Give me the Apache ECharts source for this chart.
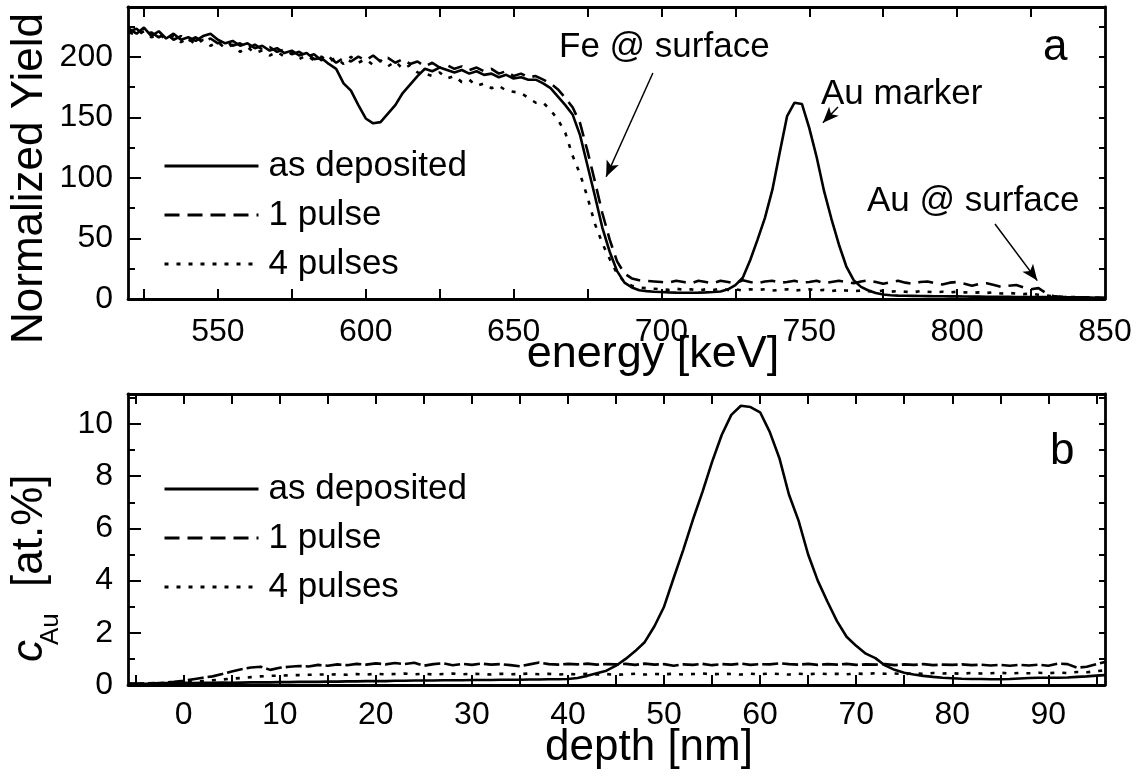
<!DOCTYPE html>
<html><head><meta charset="utf-8">
<script src="https://cdn.jsdelivr.net/npm/echarts@6/dist/echarts.min.js"></script>
<style>html,body{margin:0;padding:0;background:#fff}#c{width:1137px;height:776px}</style>
</head><body><div id="c"></div>
<script>
// ---------- Panel a: energy spectrum ----------
const energy = [520,522.5,525,527.5,530,532.5,535,537.5,540,542.5,545,547.5,550,552.5,555,557.5,560,562.5,565,567.5,570,572.5,575,577.5,580,582.5,585,587.5,590,592.5,595,597.5,600,602.5,605,607.5,610,612.5,615,617.5,620,622.5,625,627.5,630,632.5,635,637.5,640,642.5,645,647.5,650,652.5,655,657.5,660,662.5,665,667.5,670,672.5,675,677.5,680,682.5,685,687.5,690,692.5,695,697.5,700,702.5,705,707.5,710,712.5,715,717.5,720,722.5,725,727.5,730,732.5,735,737.5,740,742.5,745,747.5,750,752.5,755,757.5,760,762.5,765,767.5,770,772.5,775,777.5,780,782.5,785,787.5,790,792.5,795,797.5,800,802.5,805,807.5,810,812.5,815,817.5,820,822.5,825,827.5,830,832.5,835,837.5,840,842.5,845,847.5,850];
const asDepositedA = [223,219,224,217,221,215,219,214,216,213,217,219,214,211,213,209,211,207,209,205,207,203,205,201,203,198,199,194,190,178,172,160,149,145,146,153,160,170,177,184,190,188,191,189,187,189,186,188,185,186,183,185,182,183,181,181,178,174,167,160,152,135,110,85,59,39,23,13.5,9.5,7.2,6.5,6,5.8,5.5,5.3,5.2,5.2,5.3,5.5,5.8,6.2,8,11.5,17.5,32,49,67,90,121,151,162,161,141,117,89,66,45,27,15.5,10,7,5,3.7,3.1,2.8,2.7,2.6,2.5,2.4,2.3,2.3,2.2,2.2,2.1,2.0,2.0,1.9,1.9,1.8,1.8,1.7,1.7,1.6,1.6,1.6,1.5,1.5,1.5,1.4,1.3,1.2,1.0,0.8];
const onePulseA = [221,223,218,220,216,219,214,217,213,216,212,215,211,213,209,211,207,210,206,208,204,206,202,204,200,202,197,200,195,199,196,200,197,201,196,199,195,198,194,196,192,195,191,193,190,192,189,191,188,190,186,188,184,186,183,184,181,178,173,166,158,145,122,97,71,49,31,21,17,15.5,15,14.5,14,13.5,15,14,13,15,14,13,15,14,13,15.5,14,13,14.5,15,13.5,14,15,13.5,14,15,13,14,15,14,13,14.5,15.5,14,12.5,14,15,13.5,12.5,14,14.5,13,12,13.5,14,12.5,11,12.5,13,11.5,10,11,11.5,9.5,8,9,5,2.5,1.8,1.6,1.5,1.4,1.3,1.1,0.9];
const fourPulsesA = [220,218,221,216,219,214,217,212,215,210,214,209,212,207,210,204,208,203,205,201,204,200,203,198,201,197,200,196,199,194,200,195,198,193,197,192,196,190,193,187,186,184,187,182,184,179,181,176,178,174,176,172,171,170,166,162,162,156,148,137,118,103,84,62,46,33,21,14,11,9.5,9,8.5,8,7.5,8.5,7.5,8,7,8,7.5,8.5,7.5,8,7,8,7.5,8,7,7.5,8,7,7.5,8,7,7.5,6.5,7.5,7,6.5,7,6.5,6,7,6,6.5,6,5.5,6.5,6,5.5,6,5.5,6,5.5,5,5.5,5,5.5,4.5,5,4.5,4,4.5,3.5,3,2.2,1.8,1.6,1.5,1.4,1.3,1.1,0.9];
const energyLabels = [550,600,650,700,750,800,850];
const energyTicks = [525,550,575,600,625,650,675,700,725,750,775,800,825];
const yieldLabels = [0,50,100,150,200];
const yieldMinor = [25,75,125,175,225];
const yieldAll = [25,50,75,100,125,150,175,200,225];
// annotation arrows [fromE, fromY, toE, toY]
const arrowsA = [[697.1,186.5,681.3,100.9],[759.7,158.5,754.6,145.4],[812.8,61.9,827.1,15.2]];

// ---------- Panel b: depth profile ----------
const depth = [-5.8,-5,-4,-3,-2,-1,0,1,2,3,4,5,6,7,8,9,10,11,12,13,14,15,16,17,18,19,20,21,22,23,24,25,26,27,28,29,30,31,32,33,34,35,36,37,38,39,40,41,42,43,44,45,46,47,48,49,50,51,52,53,54,55,56,57,58,59,60,61,62,63,64,65,66,67,68,69,70,71,72,73,74,75,76,77,78,79,80,81,82,83,84,85,86,87,88,89,90,91,92,93,94,95,95.9];
const asDepositedB = [0.06,0.06,0.05,0.06,0.07,0.07,0.08,0.07,0.08,0.08,0.09,0.08,0.09,0.10,0.10,0.10,0.11,0.11,0.12,0.12,0.12,0.13,0.13,0.14,0.14,0.15,0.15,0.15,0.16,0.16,0.17,0.17,0.17,0.18,0.18,0.18,0.19,0.19,0.19,0.20,0.20,0.20,0.21,0.21,0.22,0.22,0.23,0.27,0.35,0.45,0.55,0.74,1.0,1.3,1.65,2.25,3.0,4.1,5.18,6.33,7.4,8.55,9.58,10.35,10.7,10.65,10.45,9.7,8.7,7.3,6.3,5.0,4.0,3.2,2.45,1.85,1.5,1.2,1.03,0.75,0.58,0.47,0.4,0.35,0.31,0.28,0.26,0.24,0.23,0.23,0.22,0.22,0.23,0.25,0.27,0.28,0.28,0.28,0.29,0.31,0.33,0.36,0.38];
const onePulseB = [0.04,0.05,0.06,0.07,0.09,0.12,0.16,0.22,0.28,0.33,0.42,0.52,0.6,0.67,0.7,0.58,0.66,0.7,0.73,0.71,0.77,0.74,0.79,0.76,0.81,0.78,0.83,0.79,0.84,0.8,0.85,0.74,0.8,0.83,0.76,0.81,0.77,0.82,0.78,0.8,0.76,0.72,0.79,0.86,0.8,0.78,0.81,0.79,0.82,0.78,0.8,0.79,0.81,0.77,0.82,0.78,0.8,0.74,0.79,0.77,0.81,0.76,0.8,0.78,0.82,0.77,0.8,0.79,0.83,0.8,0.78,0.81,0.77,0.8,0.78,0.81,0.77,0.79,0.78,0.8,0.76,0.79,0.77,0.8,0.76,0.78,0.77,0.79,0.76,0.78,0.75,0.77,0.74,0.77,0.75,0.78,0.74,0.82,0.8,0.66,0.7,0.8,0.88];
const fourPulsesB = [0.04,0.05,0.05,0.06,0.06,0.07,0.09,0.12,0.15,0.18,0.21,0.24,0.27,0.3,0.33,0.35,0.36,0.37,0.38,0.39,0.4,0.4,0.41,0.39,0.42,0.4,0.43,0.41,0.42,0.44,0.41,0.43,0.4,0.42,0.44,0.41,0.43,0.42,0.4,0.43,0.41,0.42,0.44,0.41,0.43,0.4,0.42,0.41,0.43,0.4,0.42,0.39,0.41,0.43,0.4,0.42,0.41,0.43,0.4,0.42,0.44,0.41,0.43,0.42,0.4,0.43,0.41,0.44,0.42,0.4,0.43,0.41,0.44,0.42,0.43,0.41,0.44,0.42,0.45,0.43,0.44,0.42,0.45,0.43,0.46,0.44,0.45,0.43,0.46,0.44,0.45,0.47,0.44,0.46,0.45,0.47,0.45,0.48,0.46,0.5,0.49,0.53,0.56];
const depthLabels = [0,10,20,30,40,50,60,70,80,90];
const depthTicks = [-5,0,5,10,15,20,25,30,35,40,45,50,55,60,65,70,75,80,85,90,95];
const concLabels = [0,2,4,6,8,10];
const concMinor = [1,3,5,7,9,11];
const concAll = [1,2,3,4,5,6,7,8,9,10,11];

const seriesNames = ['as deposited','1 pulse','4 pulses'];

const FONT = 'Liberation Sans, Arial, sans-serif';
const BLACK = '#000';
const axLine = {show:true, onZero:false, lineStyle:{color:BLACK, width:2.8}};
const noLine = {show:false, onZero:false};

function xAxes(gi, min, max, labels, ticks, margin) {
  return [
    {type:'value', gridIndex:gi, position:'bottom', min, max, splitLine:{show:false},
     axisLine:axLine,
     axisTick:{show:true, inside:true, length:10, customValues:ticks, lineStyle:{color:BLACK,width:2}},
     axisLabel:{show:true, customValues:labels, margin, fontSize:32, fontFamily:FONT, color:BLACK}},
    {type:'value', gridIndex:gi, position:'top', min, max, splitLine:{show:false},
     axisLine:axLine,
     axisTick:{show:true, inside:true, length:10, customValues:ticks, lineStyle:{color:BLACK,width:2}},
     axisLabel:{show:false}}
  ];
}
function yAxes(gi, min, max, labels, minor, all) {
  return [
    {type:'value', gridIndex:gi, position:'left', min, max, splitLine:{show:false},
     axisLine:axLine,
     axisTick:{show:true, inside:true, length:13, customValues:labels, lineStyle:{color:BLACK,width:2}},
     axisLabel:{show:true, customValues:labels, margin:15, fontSize:32, fontFamily:FONT, color:BLACK}},
    {type:'value', gridIndex:gi, position:'left', min, max, splitLine:{show:false},
     axisLine:noLine,
     axisTick:{show:true, inside:true, length:7, customValues:minor, lineStyle:{color:BLACK,width:2}},
     axisLabel:{show:false}},
    {type:'value', gridIndex:gi, position:'right', min, max, splitLine:{show:false},
     axisLine:axLine,
     axisTick:{show:true, inside:true, length:6, customValues:all, lineStyle:{color:BLACK,width:2}},
     axisLabel:{show:false}}
  ];
}
function line(name, xs, ys, xi, yi, dash, extra) {
  return Object.assign({
    type:'line', name, xAxisIndex:xi, yAxisIndex:yi,
    data: xs.map((x,i)=>[x, ys[i]]),
    symbol:'none', showSymbol:false, animation:false, silent:true,
    lineStyle:{color:BLACK, width:2.6, type:dash},
    itemStyle:{color:BLACK}, emphasis:{disabled:true}
  }, extra || {});
}

const arrowData = arrowsA.map(a => [{coord:[a[0],a[1]]},{coord:[a[2],a[3]]}]);

const legendBase = {
  data: seriesNames, orient:'vertical', left:163, itemWidth:94, itemHeight:14, itemGap:9,
  padding:0, selectedMode:false,
  itemStyle:{opacity:0, borderWidth:0},
  lineStyle:{width:3},
  textStyle:{fontSize:35, fontFamily:FONT, color:BLACK, lineHeight:40, padding:[0,0,0,5]}
};

const txt = (text, x, y, size, opts) => Object.assign({
  type:'text', x, y, silent:true,
  style:Object.assign({text, fontSize:size, fontFamily:FONT, fill:BLACK, align:'left', verticalAlign:'middle'}, (opts && opts.style) || {})
}, (opts && opts.el) || {});

const option = {
  backgroundColor:'#fff',
  animation:false,
  grid:[
    {left:128, top:7, width:977, height:292, outerBoundsMode:'none', containLabel:false},
    {left:128, top:394, width:977, height:291, outerBoundsMode:'none', containLabel:false}
  ],
  xAxis:[].concat(xAxes(0, 519.6, 850, energyLabels, energyTicks, 17), xAxes(1, -5.8, 95.9, depthLabels, depthTicks, 14)),
  yAxis:[].concat(yAxes(0, 0, 241, yieldLabels, yieldMinor, yieldAll), yAxes(1, 0, 11.15, concLabels, concMinor, concAll)),
  legend:[
    Object.assign({}, legendBase, {top:146}),
    Object.assign({}, legendBase, {top:469})
  ],
  series:[
    line(seriesNames[0], energy, asDepositedA, 0, 0, 'solid', {
      markLine:{silent:true, symbol:['none','arrow'], symbolSize:[10,16], animation:false,
        label:{show:false}, emphasis:{disabled:true},
        lineStyle:{color:BLACK, width:1.5, type:'solid'}, data:arrowData}
    }),
    line(seriesNames[1], energy, onePulseA, 0, 0, [15,8]),
    line(seriesNames[2], energy, fourPulsesA, 0, 0, [4,8]),
    line(seriesNames[0], depth, asDepositedB, 2, 3, 'solid'),
    line(seriesNames[1], depth, onePulseB, 2, 3, [16,4]),
    line(seriesNames[2], depth, fourPulsesB, 2, 3, [4,8])
  ],
  graphic:[
    txt('Normalized Yield', 29.6, 178.5, 44, {style:{align:'center'}, el:{rotation:Math.PI/2}}),
    txt('energy [keV]', 653, 355, 45, {style:{align:'center'}}),
    txt('depth [nm]', 649, 747.6, 44, {style:{align:'center'}}),
    txt('c', 29.6, 662, 44, {style:{fontStyle:'italic'}, el:{rotation:Math.PI/2}}),
    txt('Au', 50.9, 645, 26, {el:{rotation:Math.PI/2}}),
    txt('[at.%]', 29.6, 587, 44, {el:{rotation:Math.PI/2}}),
    txt('Fe @ surface', 559, 47.8, 35),
    txt('Au marker', 821, 94.8, 35),
    txt('Au @ surface', 867, 201.8, 35),
    txt('a', 1043, 47.6, 44),
    txt('b', 1050, 451.6, 44)
  ]
};
const chart = echarts.init(document.getElementById('c'), null, {renderer:'canvas'});
chart.setOption(option);
</script>
</body></html>
